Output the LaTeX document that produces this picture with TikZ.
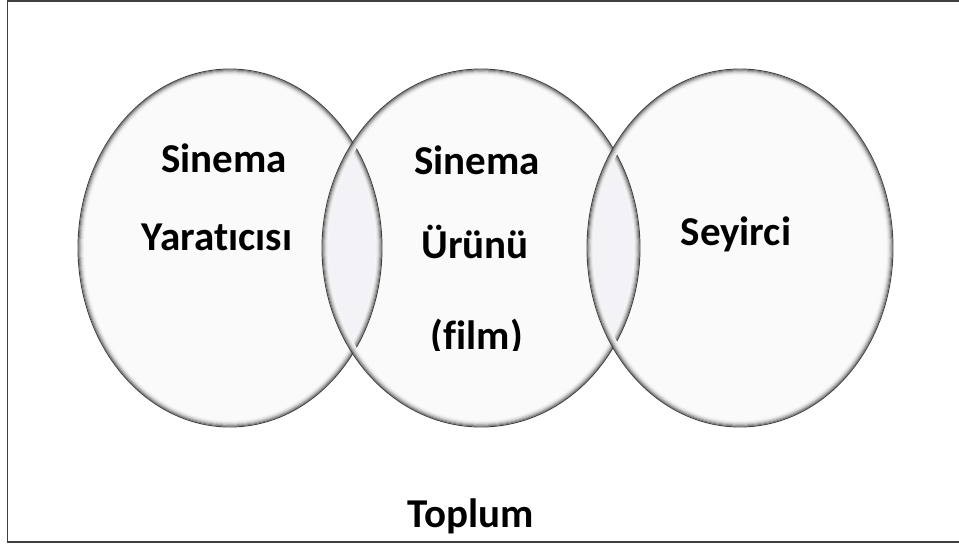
\documentclass[tikz,border=0pt]{standalone}
\usepackage{fontspec}
\setmainfont{Carlito}[Ligatures=CommonOff]
\definecolor{framegray}{RGB}{64,64,64}
\definecolor{ellfill}{RGB}{250,250,251}
\definecolor{overfill}{RGB}{243,243,247}
\begin{document}
\begin{tikzpicture}[x=1pt,y=-1pt,
  lbl/.style={font=\fontsize{41}{49}\selectfont\bfseries, text=black, inner sep=0pt, anchor=base},
  framebox/.style={draw=framegray, line width=1.5pt}]
\useasboundingbox (0,0) rectangle (959,547);
\begin{scope}
\clip (0,0) rectangle (959,547);
\draw[framebox] (7.5,1) rectangle (970,542);
\end{scope}
% ellipse centres
\coordinate (cL) at (230,248);
\coordinate (cM) at (481,248);
\coordinate (cR) at (740,248);
\fill[ellfill] (cL) ellipse [x radius=152, y radius=179];
\fill[ellfill] (cM) ellipse [x radius=159, y radius=179];
\fill[ellfill] (cR) ellipse [x radius=153, y radius=179];
\begin{scope}
\clip (cM) ellipse [x radius=159, y radius=179];
\fill[overfill] (cL) ellipse [x radius=152, y radius=179];
\fill[overfill] (cR) ellipse [x radius=153, y radius=179];
\end{scope}
\def\ellline#1#2#3{%
  \foreach \d/\c in {6/3,5/7,4/13,3/22,2/34,1/48}{
    \draw[black!\c, line width=1.1pt] (#1) ellipse [x radius=#2-\d, y radius=#3-\d];
  }
  \draw[black!75, line width=0.9pt] (#1) ellipse [x radius=#2, y radius=#3];
}
\ellline{cL}{152}{179}
\ellline{cM}{159}{179}
\ellline{cR}{153}{179}
% texts
\node[lbl] (s1) at (224,172) {Sinema};
\node[lbl] (y1) at (217,250) {Yaratıcısı};
\node[lbl] (s2) at (477,174) {Sinema};
\node[lbl] (u2) at (475,258) {Ürünü};
\begin{scope}
\clip (380,300) rectangle (580,350);
\node[lbl] (f2) at (477,349) {(film)};
\end{scope}
\node[lbl] (sey) at (736,245) {Seyirci};
\node[lbl] (top) at (471,527) {Toplum};
\end{tikzpicture}
\end{document}
